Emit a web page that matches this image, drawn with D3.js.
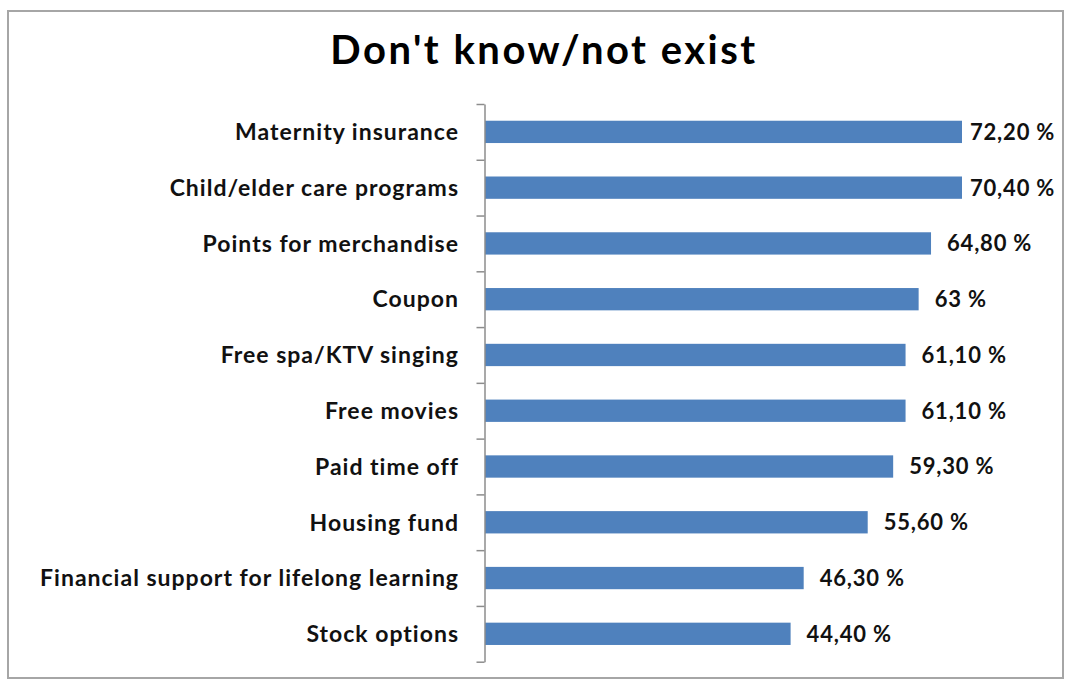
<!DOCTYPE html>
<html>
<head>
<meta charset="utf-8">
<script src="https://cdn.jsdelivr.net/npm/d3@7"></script>
<style>
  html, body { margin: 0; padding: 0; background: #ffffff; }
  svg { display: block; }
</style>
</head>
<body>
<svg id="chart" width="1065" height="680"></svg>
<script>
// Benefits that respondents don't know about or that don't exist at their workplace
const categories = [
  "Maternity insurance",
  "Child/elder care programs",
  "Points for merchandise",
  "Coupon",
  "Free spa/KTV singing",
  "Free movies",
  "Paid time off",
  "Housing fund",
  "Financial support for lifelong learning",
  "Stock options"
];
const values = [72.2, 70.4, 64.8, 63, 61.1, 61.1, 59.3, 55.6, 46.3, 44.4];
const valueLabels = ["72,20 %", "70,40 %", "64,80 %", "63 %", "61,10 %", "61,10 %", "59,30 %", "55,60 %", "46,30 %", "44,40 %"];
const axisMax = 69.3; // value axis is capped, so the longest bars are clipped at the plot edge
const title = "Don't know/not exist";

const svg = d3.select("#chart");
const font = "Lato, 'Open Sans', sans-serif";

// chart frame
svg.append("rect")
  .attr("x", 8).attr("y", 11)
  .attr("width", 1055).attr("height", 667)
  .attr("fill", "#ffffff")
  .attr("stroke", "#a6a6a6")
  .attr("stroke-width", 2);

svg.append("text")
  .attr("x", 544).attr("y", 64)
  .attr("text-anchor", "middle")
  .attr("font-family", font)
  .attr("font-weight", 700)
  .attr("font-size", 40)
  .attr("letter-spacing", 2.5)
  .attr("fill", "#000")
  .text(title);

const plotTop = 104, plotBottom = 661.7, plotLeft = 485;

const x = d3.scaleLinear().domain([0, axisMax]).range([plotLeft, 962]).clamp(true);
const y = d3.scaleBand().domain(categories).range([plotTop, plotBottom])
  .paddingInner(0.6).paddingOuter(0.3);

// bars
svg.append("g").selectAll("rect")
  .data(categories)
  .join("rect")
  .attr("x", plotLeft)
  .attr("y", d => y(d))
  .attr("width", (d, i) => x(values[i]) - plotLeft)
  .attr("height", y.bandwidth())
  .attr("fill", "#4f81bd");

// category axis: line with ticks on the band boundaries
const idx = d3.scaleLinear().domain([0, categories.length]).range([plotTop, plotBottom]);
const axisG = svg.append("g")
  .attr("transform", `translate(${plotLeft - 0.5},0)`)
  .call(d3.axisLeft(idx).tickValues(d3.range(categories.length + 1)).tickFormat("").tickSize(8).tickSizeOuter(0));
axisG.select(".domain").attr("stroke", "#8c8c8c").attr("stroke-width", 1.5);
axisG.selectAll(".tick line").attr("stroke", "#8c8c8c").attr("stroke-width", 1.5);

// category labels
svg.append("g").selectAll("text")
  .data(categories)
  .join("text")
  .attr("x", 459)
  .attr("y", d => y(d) + y.bandwidth() / 2)
  .attr("dy", "0.36em")
  .attr("text-anchor", "end")
  .attr("font-family", font)
  .attr("font-weight", 700)
  .attr("font-size", 23)
  .attr("letter-spacing", 1)
  .attr("fill", "#111")
  .text(d => d);

// value labels, kept inside the chart area
svg.append("g").selectAll("text")
  .data(categories)
  .join("text")
  .attr("x", (d, i) => Math.min(x(values[i]) + 16, 970))
  .attr("y", d => y(d) + y.bandwidth() / 2)
  .attr("dy", "0.36em")
  .attr("font-family", font)
  .attr("font-weight", 700)
  .attr("font-size", 22)
  .attr("letter-spacing", 0.8)
  .attr("fill", "#111")
  .text((d, i) => valueLabels[i]);
</script>
</body>
</html>
